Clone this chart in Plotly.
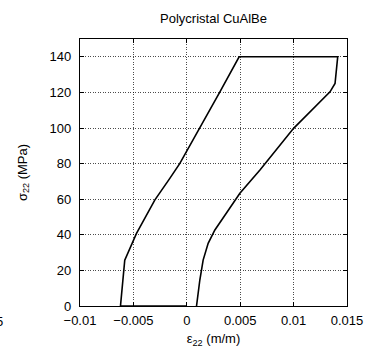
import plotly.graph_objects as go

# Loading/unloading path (strain m/m, stress MPa)
strain = [0.00091, 0.00122, 0.00153, 0.0020, 0.00263, 0.00372, 0.00497, 0.00685,
          0.0100, 0.01341, 0.01388, 0.01413,
          0.0049, 0.0031, 0.00122, -0.00065, -0.00159, -0.0030, -0.00471,
          -0.00581, -0.00621, 0.0]
stress = [0.0, 14.6, 25.8, 35.2, 42.7, 52.0, 63.3, 76.4,
          99.8, 120.3, 125.0, 140.0,
          140.0, 120.3, 99.8, 80.1, 71.7, 59.5, 40.8,
          25.8, 0.0, 0.0]

x_ticks = [-0.01, -0.005, 0, 0.005, 0.01, 0.015]
x_ticktext = ["\u22120.01", "\u22120.005", "0", "0.005", "0.01", "0.015"]
y_ticks = [0, 20, 40, 60, 80, 100, 120, 140]

font = "Liberation Sans, Arial, sans-serif"
fs = 13

fig = go.Figure()
fig.add_trace(go.Scatter(x=strain, y=stress, mode="lines",
                         line=dict(color="black", width=1.6),
                         showlegend=False, hoverinfo="skip"))

axis_common = dict(showline=True, linecolor="black", linewidth=1.2, mirror="ticks",
                   ticks="inside", ticklen=4, tickcolor="black", automargin=False,
                   showgrid=True, gridcolor="rgba(0,0,0,0.7)", griddash="1px,1.5px",
                   gridwidth=1, zeroline=False,
                   tickfont=dict(family=font, size=fs, color="black"))

fig.update_xaxes(range=[-0.01, 0.015], tickvals=x_ticks, ticktext=x_ticktext,
                 ticklabelstandoff=2,
                 title=dict(text="\u03b5<sub>22</sub> (m/m)", standoff=7,
                            font=dict(family=font, size=fs, color="black")),
                 **axis_common)
fig.update_yaxes(range=[0, 150], tickvals=y_ticks, ticklabelstandoff=5,
                 title=dict(text="\u03c3<sub>22</sub> (MPa)", standoff=19,
                            font=dict(family=font, size=fs, color="black")),
                 **axis_common)

fig.update_layout(
    width=371, height=352,
    margin=dict(l=80, r=24, t=39, b=46),
    paper_bgcolor="white", plot_bgcolor="white",
    title=dict(text="Polycristal CuAlBe", x=213.5 / 371, xanchor="center",
               y=1 - 18 / 352, yanchor="middle",
               font=dict(family=font, size=fs, color="black")),
    annotations=[dict(text="5", xref="paper", yref="paper",
                      x=(5 - 80) / 267, y=(306 - 321) / 267,
                      xanchor="right", yanchor="middle", showarrow=False,
                      font=dict(family=font, size=fs, color="black"))],
)

fig.write_html("out.html", config={"displayModeBar": False},
               post_script="document.body.style.margin='0';"
                           "document.body.style.overflow='hidden';")
